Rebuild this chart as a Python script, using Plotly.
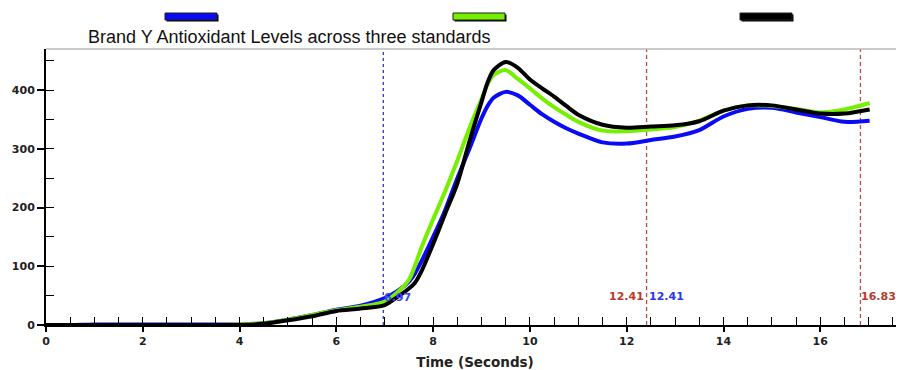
import plotly.graph_objects as go

# ---- data ----
time_s = [0, 0.5, 1, 1.5, 2, 2.5, 3, 3.5, 4, 4.5, 5, 5.5, 6, 6.5, 7, 7.25, 7.5, 7.625, 7.75, 8, 8.25,
          8.5, 8.75, 9, 9.125, 9.25, 9.5, 9.75, 10, 10.25, 10.5, 10.75, 11, 11.5, 12, 12.5, 13, 13.5,
          14, 14.5, 15, 15.5, 16, 16.5, 17.02]
blue_vals = [0, 0, 1, 1, 1, 1, 1, 1, 1, 3, 9, 17, 26, 33, 46, 57, 74, 88, 107, 150, 196,
             250, 300, 352, 373, 387, 397, 391, 375, 359, 346, 335, 326, 311, 309, 315, 321, 332,
             355, 368, 370, 362, 354, 346, 348]
green_vals = [0, 0, 0, 0, 0, 0, 0, 0, 1, 3, 9, 17, 25, 31, 40, 55, 77, 101, 130, 180, 228,
              280, 335, 385, 410, 426, 434, 419, 403, 386, 371, 358, 346, 331, 330, 333, 337, 348,
              365, 374, 373, 368, 362, 367, 378]
black_vals = [0, 0, 0, 0, 0, 0, 0, 0, 0, 2, 8, 15, 24, 28, 34, 47, 62, 72, 90, 138, 190,
              241, 313, 380, 413, 434, 448, 438, 418, 403, 389, 373, 358, 341, 336, 338, 340, 347,
              365, 374, 374, 367, 360, 360, 367]
series_names = ["Standard 1", "Standard 2", "Standard 3"]
series_colors = ["#0a0af5", "#76f000", "#000000"]

marker_times = [6.97, 12.41, 16.83]
x_range = [0, 17.73]
y_range = [0, 470]

title_text = "Brand Y Antioxidant Levels across three standards"
x_title = "Time (Seconds)"

# page is shown with an 8px body margin, so figure is 8px smaller
OFF = 8
W, H = 904 - OFF, 370 - OFF
ML, MR, MT, MB = 46 - OFF, 0, 49 - OFF, 45
PW, PH = W - ML - MR, H - MT - MB


def pxx(px):  # page pixel -> paper x
    return (px - OFF - ML) / PW


def pxy(py):  # page pixel -> paper y
    return (H - MB - (py - OFF)) / PH


fig = go.Figure()
for name, vals, col in zip(series_names, [blue_vals, green_vals, black_vals], series_colors):
    fig.add_trace(go.Scatter(x=time_s, y=vals, name=name, mode="lines",
                             line=dict(color=col, width=4, shape="spline", smoothing=0.8),
                             showlegend=False))

# dummy trace for overlay axes (inner ticks)
fig.add_trace(go.Scatter(x=[None], y=[None], xaxis="x2", yaxis="y2", showlegend=False,
                         hoverinfo="skip"))

shapes = []
# top border
shapes.append(dict(type="line", xref="paper", yref="paper", x0=0, x1=1, y0=1, y1=1,
                   line=dict(color="#b8b8b8", width=1.5)))
# marker lines
marker_styles = [("#2233ee", "3px,3px"), ("#c04848", "4px,3px"), ("#c04848", "4px,3px")]
for t, (c, d) in zip(marker_times, marker_styles):
    shapes.append(dict(type="line", xref="x", yref="paper", x0=t, x1=t, y0=0, y1=1,
                       line=dict(color=c, width=1.3, dash=d), layer="below"))

# legend bars (no text)
legend_px = [165, 453, 740]
for lx, col in zip(legend_px, series_colors):
    shapes.append(dict(type="rect", xref="paper", yref="paper",
                       x0=pxx(lx + 1.5), x1=pxx(lx + 53.5), y0=pxy(21.5), y1=pxy(14.5),
                       fillcolor="#000000", line=dict(width=0)))
    shapes.append(dict(type="rect", xref="paper", yref="paper",
                       x0=pxx(lx), x1=pxx(lx + 52), y0=pxy(20), y1=pxy(13),
                       fillcolor=col, line=dict(color="#202020", width=1)))

annotations = [
    dict(text=title_text, xref="paper", yref="paper", x=pxx(86), y=pxy(37),
         xanchor="left", yanchor="middle", showarrow=False,
         font=dict(family="Liberation Sans, Arial", size=18, color="#111111")),
]
lab_font = dict(family="DejaVu Sans", size=11, weight="bold")
annotations.append(dict(text=f"{marker_times[0]:.2f}", x=marker_times[0], y=47,
                        xanchor="left", yanchor="middle", showarrow=False, xshift=-1,
                        font=dict(color="#3a44ff", **lab_font)))
annotations.append(dict(text=f"{marker_times[1]:.2f}", x=marker_times[1], y=49,
                        xanchor="right", yanchor="middle", showarrow=False, xshift=-1,
                        font=dict(color="#b83a30", **lab_font)))
annotations.append(dict(text=f"{marker_times[1]:.2f}", x=marker_times[1], y=49,
                        xanchor="left", yanchor="middle", showarrow=False, xshift=0,
                        font=dict(color="#2a36f0", **lab_font)))
annotations.append(dict(text=f"{marker_times[2]:.2f}", x=marker_times[2], y=49,
                        xanchor="left", yanchor="middle", showarrow=False, xshift=-1,
                        font=dict(color="#b83a30", **lab_font)))

tick_font = dict(family="DejaVu Sans", size=11, color="#222222", weight="bold")

fig.update_layout(
    width=W, height=H,
    margin=dict(l=ML, r=MR, t=MT, b=MB, pad=0),
    plot_bgcolor="white", paper_bgcolor="white",
    shapes=shapes, annotations=annotations,
    xaxis=dict(range=x_range, showgrid=False, zeroline=False, showline=True,
               linecolor="black", linewidth=2, ticks="outside", ticklen=5, tickwidth=1.5,
               tickcolor="black", dtick=2, tick0=0, tickfont=tick_font,
               title=dict(text=x_title, standoff=10,
                          font=dict(family="DejaVu Sans", size=13.5, color="#222222",
                                    weight="bold"))),
    yaxis=dict(range=y_range, showgrid=False, zeroline=False, showline=True,
               linecolor="black", linewidth=2, ticks="outside", ticklen=7, tickwidth=1.5,
               tickcolor="black", dtick=100, tick0=0, tickfont=tick_font),
    xaxis2=dict(range=x_range, overlaying="x", anchor="y", showgrid=False, zeroline=False,
                showline=False, ticks="inside", ticklen=8, tickwidth=1.3, tickcolor="black",
                dtick=0.5, tick0=0, showticklabels=False),
    yaxis2=dict(range=y_range, overlaying="y", anchor="x", showgrid=False, zeroline=False,
                showline=False, ticks="inside", ticklen=8, tickwidth=1.3, tickcolor="black",
                dtick=50, tick0=0, showticklabels=False),
)

fig.write_html("out.html")
